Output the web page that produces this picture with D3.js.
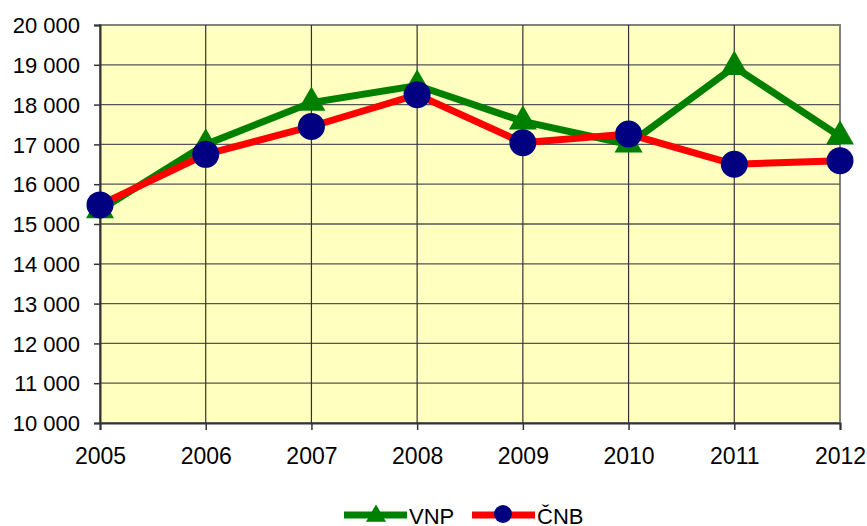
<!DOCTYPE html>
<html>
<head>
<meta charset="utf-8">
<script src="https://cdn.jsdelivr.net/npm/d3@7"></script>
<style>
  body { margin: 0; background: #fff; }
  svg { display: block; font-family: "Liberation Sans", Arial, sans-serif; }
</style>
</head>
<body>
<div id="viscontainer"></div>
<script>
const years = [2005, 2006, 2007, 2008, 2009, 2010, 2011, 2012];
const vnp = [15350, 17000, 18050, 18480, 17580, 17000, 18950, 17200];
const cnb = [15480, 16750, 17450, 18250, 17040, 17260, 16500, 16590];
const yTicks = [10000, 11000, 12000, 13000, 14000, 15000, 16000, 17000, 18000, 19000, 20000];

const width = 867;
const height = 526;
const margin = { left: 100, right: 27, top: 25, bottom: 103 };

const svg = d3.select("#viscontainer")
  .append("svg")
  .attr("width", width)
  .attr("height", height);

const x = d3.scalePoint()
  .domain(years)
  .range([margin.left, width - margin.right]);

const y = d3.scaleLinear()
  .domain([10000, 20000])
  .range([height - margin.bottom, margin.top]);

const fmt = d => d3.format(",")(d).replace(",", " ");

// plot background
svg.append("rect")
  .attr("x", margin.left)
  .attr("y", margin.top)
  .attr("width", width - margin.right - margin.left)
  .attr("height", height - margin.bottom - margin.top)
  .attr("fill", "#FFFFC0")
  .attr("stroke", "#808080")
  .attr("stroke-width", 2);

// grid
svg.append("g")
  .selectAll("line")
  .data(yTicks.slice(1, -1))
  .join("line")
  .attr("x1", margin.left)
  .attr("x2", width - margin.right)
  .attr("y1", d => y(d))
  .attr("y2", d => y(d))
  .attr("stroke", "#555")
  .attr("stroke-width", 1.3);

svg.append("g")
  .selectAll("line")
  .data(years.slice(1, -1))
  .join("line")
  .attr("x1", d => x(d))
  .attr("x2", d => x(d))
  .attr("y1", margin.top)
  .attr("y2", height - margin.bottom)
  .attr("stroke", "#333")
  .attr("stroke-width", 1.2);

// axes
const yAxis = svg.append("g")
  .attr("transform", `translate(${margin.left},0)`)
  .call(d3.axisLeft(y).tickValues(yTicks).tickFormat(fmt).tickSize(6).tickPadding(14));

const xAxis = svg.append("g")
  .attr("transform", `translate(0,${height - margin.bottom})`)
  .call(d3.axisBottom(x).tickSize(7).tickPadding(18));

[yAxis, xAxis].forEach(g => {
  g.select(".domain").attr("stroke", "#333").attr("stroke-width", 2);
  g.selectAll(".tick line").attr("stroke", "#333").attr("stroke-width", 1.5);
  g.selectAll("text").attr("fill", "#000")
    .attr("font-family", "'Liberation Sans', Arial, sans-serif");
});
yAxis.selectAll("text").attr("font-size", 22).attr("dy", "0.35em");
xAxis.selectAll("text").attr("font-size", 23);

const line = d3.line().x((d, i) => x(years[i])).y(d => y(d));
const tri = d3.symbol().type(d3.symbolTriangle).size(340);
const triSmall = d3.symbol().type(d3.symbolTriangle).size(175);

// VNP
svg.append("path")
  .datum(vnp)
  .attr("d", line)
  .attr("fill", "none")
  .attr("stroke", "#008000")
  .attr("stroke-width", 7);

svg.append("g")
  .selectAll("path")
  .data(vnp)
  .join("path")
  .attr("d", tri)
  .attr("transform", (d, i) => `translate(${x(years[i])},${y(d)})`)
  .attr("fill", "#008000");

// CNB
svg.append("path")
  .datum(cnb)
  .attr("d", line)
  .attr("fill", "none")
  .attr("stroke", "#FF0000")
  .attr("stroke-width", 7);

svg.append("g")
  .selectAll("circle")
  .data(cnb)
  .join("circle")
  .attr("cx", (d, i) => x(years[i]))
  .attr("cy", d => y(d))
  .attr("r", 13.5)
  .attr("fill", "#000080");

// legend
const legY = 515;
const leg = svg.append("g");
leg.append("line")
  .attr("x1", 344).attr("x2", 407).attr("y1", legY).attr("y2", legY)
  .attr("stroke", "#008000").attr("stroke-width", 7);
leg.append("path")
  .attr("d", triSmall)
  .attr("transform", `translate(376,${legY + 1})`)
  .attr("fill", "#008000");
leg.append("text")
  .attr("x", 409).attr("y", legY + 9)
  .attr("font-size", 22)
  .text("VNP");
leg.append("line")
  .attr("x1", 472).attr("x2", 535).attr("y1", legY).attr("y2", legY)
  .attr("stroke", "#FF0000").attr("stroke-width", 7);
leg.append("circle")
  .attr("cx", 503).attr("cy", legY - 1).attr("r", 9)
  .attr("fill", "#000080");
leg.append("text")
  .attr("x", 537).attr("y", legY + 9)
  .attr("font-size", 22)
  .text("ČNB");
</script>
</body>
</html>
